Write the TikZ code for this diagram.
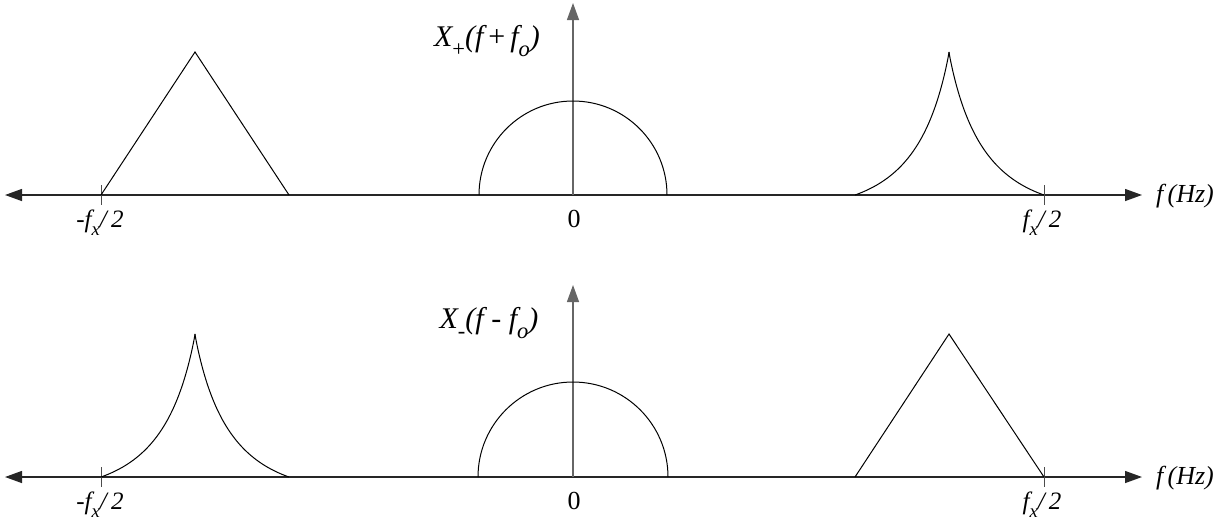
\documentclass[tikz,border=0pt]{standalone}
\usepackage{fontspec}
\usepackage{graphicx}
\setmainfont{Liberation Serif}
\usetikzlibrary{arrows.meta}
\newcommand\sbs[1]{\raisebox{-0.32em}{\scalebox{0.75}{#1}}}
\begin{document}
\begin{tikzpicture}[x=1pt,y=-1pt,
  axis/.style={line width=1.3pt,draw=black!85,-{Triangle[length=17pt,width=12pt]}},
  vaxis/.style={line width=1.3pt,draw=black!60,-{Triangle[length=17pt,width=12pt]}},
  curve/.style={line width=1pt,draw=black},
  tick/.style={line width=1pt,draw=black!70},
  lab/.style={font=\fontsize{25}{27}\selectfont\itshape,inner sep=0pt},
  hzlab/.style={font=\fontsize{26}{28}\selectfont\itshape,inner sep=0pt},
  zerolab/.style={font=\fontsize{26}{28}\selectfont,inner sep=0pt},
  biglab/.style={font=\fontsize{30}{32}\selectfont\itshape,inner sep=0pt},
  declare function={cusp(\t)=(1-\t)/(1+2.2*\t)-0.08*sqrt(\t)*(1-\t);}]
\useasboundingbox (0,0) rectangle (1225,523);
% ---------- top ----------
\coordinate (tL) at (5,195);
\coordinate (tR) at (1142,195);
\coordinate (tO) at (573,195);
\coordinate (tT) at (573,3);
\draw[axis] (tO) -- (tL);
\draw[axis] (tO) -- (tR);
\draw[vaxis] (tO) -- (tT);
\coordinate (tk1a) at (101,185); \coordinate (tk1b) at (101,205);
\coordinate (tk2a) at (1044,185); \coordinate (tk2b) at (1044,205);
\draw[tick] (tk1a) -- (tk1b);
\draw[tick] (tk2a) -- (tk2b);
% triangle
\draw[curve] (101,195) -- (195,52) -- (289,195);
% semicircle
\draw[curve] (479,195) arc[start angle=180,end angle=360,radius=94];
% cusp
\draw[curve] plot[domain=0:1,samples=150] ({949-94*\x},{195-143*cusp(\x)});
\draw[curve] plot[domain=0:1,samples=150] ({949+95*\x},{195-143*cusp(\x)});
% labels
\node[biglab] (Xp) at (487,41) {X\sbs{\upshape +}(f\,{\upshape +}\,f\sbs{o})};
\node[lab] (l1) at (100,223) {-f\sbs{x}/\,2};
\node[zerolab] (l0) at (574,219) {0};
\node[lab] (l2) at (1042,223) {f\sbs{x}/\,2};
\node[hzlab] (fh) at (1185,196) {f\,(Hz)};
% ---------- bottom ----------
\coordinate (bL) at (5,477);
\coordinate (bR) at (1142,477);
\coordinate (bO) at (573,477);
\coordinate (bT) at (573,285);
\draw[axis] (bO) -- (bL);
\draw[axis] (bO) -- (bR);
\draw[vaxis] (bO) -- (bT);
\coordinate (bk1a) at (101,467); \coordinate (bk1b) at (101,487);
\coordinate (bk2a) at (1044,467); \coordinate (bk2b) at (1044,487);
\draw[tick] (bk1a) -- (bk1b);
\draw[tick] (bk2a) -- (bk2b);
% triangle
\draw[curve] (855,477) -- (949,334) -- (1044,477);
% semicircle
\draw[curve] (478,477) arc[start angle=180,end angle=360,radius=95];
% cusp
\draw[curve] plot[domain=0:1,samples=150] ({195-94*\x},{477-143*cusp(\x)});
\draw[curve] plot[domain=0:1,samples=150] ({195+94*\x},{477-143*cusp(\x)});
% labels
\node[biglab] (Xm) at (489,323) {X\sbs{-}(f - f\sbs{o})};
\node[lab] (m1) at (100,505) {-f\sbs{x}/\,2};
\node[zerolab] (m0) at (574,501) {0};
\node[lab] (m2) at (1042,505) {f\sbs{x}/\,2};
\node[hzlab] (mh) at (1185,478) {f\,(Hz)};
\end{tikzpicture}
\end{document}
